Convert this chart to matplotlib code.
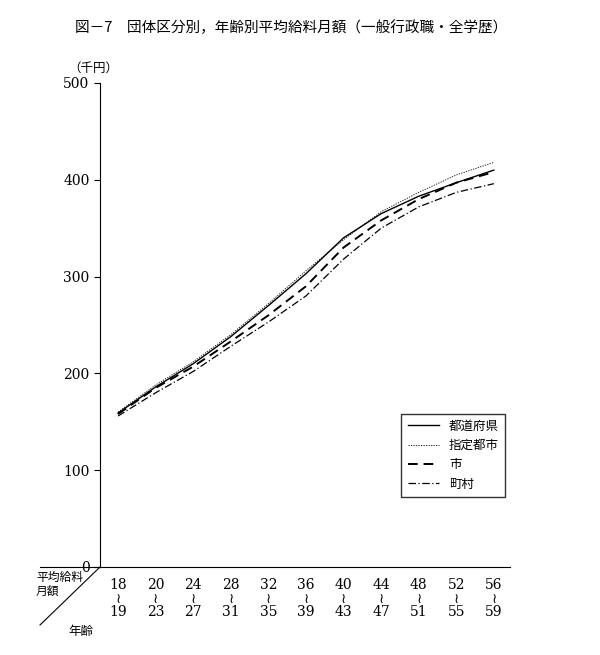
import matplotlib
matplotlib.use("Agg")
import matplotlib.pyplot as plt
from matplotlib.lines import Line2D

plt.rcParams['font.family'] = ['Noto Sans CJK JP', 'DejaVu Sans']

ages_from = [18, 20, 24, 28, 32, 36, 40, 44, 48, 52, 56]
ages_to = [19, 23, 27, 31, 35, 39, 43, 47, 51, 55, 59]
todofuken = [159, 186, 210, 238, 270, 303, 340, 365, 383, 397, 410]
shitei = [160, 188, 212, 240, 272, 306, 338, 367, 387, 405, 418]
shi = [158, 185, 207, 233, 260, 290, 330, 358, 380, 397, 408]
chouson = [156, 180, 202, 228, 253, 280, 318, 350, 372, 387, 396]

fig = plt.figure(figsize=(6, 6.55), dpi=100)
ax = fig.add_axes([100/600, 88/655, 410/600, 484/655])
x = list(range(len(ages_from)))
ax.plot(x, todofuken, color='black', lw=1.0, ls='-', label='都道府県')
ax.plot(x, shitei, color='black', lw=0.6, ls=(0, (1.5, 1.5)), label='指定都市')
ax.plot(x, shi, color='black', lw=1.4, ls=(0, (5, 3)), label='市')
ax.plot(x, chouson, color='black', lw=0.9, ls=(0, (6, 2, 1, 2)), label='町村')

ax.set_xlim(-0.48, 10.43)
ax.set_ylim(0, 500)
ax.set_yticks([0, 100, 200, 300, 400, 500])
ax.set_yticklabels(['0', '100', '200', '300', '400', '500'], family='DejaVu Serif', fontsize=10)
ax.set_xticks(x)
ax.set_xticklabels([f"{a}\n≀\n{b}" for a, b in zip(ages_from, ages_to)],
                   family=['DejaVu Serif', 'DejaVu Sans'], fontsize=10, linespacing=0.95)
ax.tick_params(axis='x', length=0, pad=8)
ax.tick_params(axis='y', length=4, direction='out')
for s in ['top', 'right']:
    ax.spines[s].set_visible(False)

ax.legend(loc='upper left', bbox_to_anchor=(0.72, 0.33), frameon=True, fancybox=False,
          edgecolor='black', fontsize=9, handlelength=2.5, borderpad=0.5)

fig.text(75/600, 1 - 28/655, '図－7　団体区分別，年齢別平均給料月額（一般行政職・全学歴）', fontsize=10.5, va='center')
fig.text(68/600, 1 - 68/655, '（千円）', fontsize=9, va='center')
fig.text(36/600, 1 - 584/655, '平均給料\n月額', fontsize=8.5, va='center', ha='left', linespacing=1.1)
fig.text(68/600, 1 - 632/655, '年齢', fontsize=9, va='center')
fig.add_artist(Line2D([40/600, 100/600], [1 - 567/655, 1 - 567/655], color='black', lw=0.8))
fig.add_artist(Line2D([40/600, 100/600], [1 - 625/655, 1 - 567/655], color='black', lw=0.8))

fig.savefig('out.png', dpi=100)
